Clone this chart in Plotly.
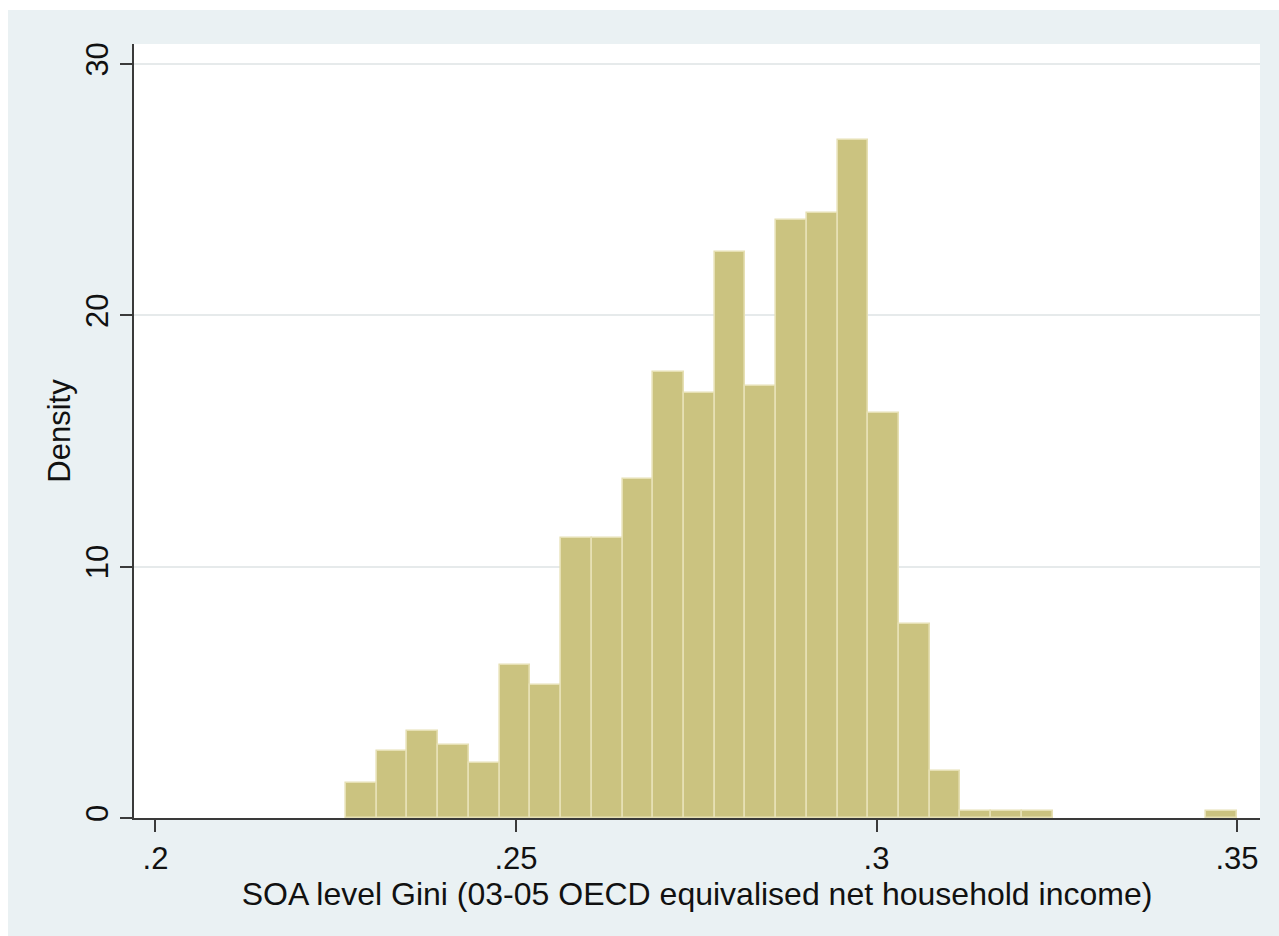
import plotly.graph_objects as go

# Histogram of SOA-level Gini coefficients (density scale), 29 equal-width bins
bin_start = 0.22642
bin_end = 0.35
densities = [1.38, 2.68, 3.46, 2.90, 2.18, 6.09, 5.29, 11.13, 11.13, 13.49,
             17.73, 16.92, 22.52, 17.20, 23.80, 24.07, 26.98, 16.13, 7.72, 1.87,
             0.28, 0.28, 0.28, 0, 0, 0, 0, 0, 0.28]
x_ticks = [0.2, 0.25, 0.3, 0.35]
x_tick_labels = [".2", ".25", ".3", ".35"]
y_ticks = [0, 10, 20, 30]
y_tick_labels = ["0", "10", "20", "30"]

n_bins = len(densities)
bin_width = (bin_end - bin_start) / n_bins
centers = [bin_start + bin_width * (i + 0.5) for i in range(n_bins)]
# empty bins get no outline so nothing is drawn along the baseline
outline_widths = [1.6 if d > 0 else 0 for d in densities]

FONT = "Liberation Sans, Arial, sans-serif"
AXIS = "#3a3a3a"
TEXT = "#111111"
BG = "#EAF1F3"

fig = go.Figure()
fig.add_trace(go.Bar(
    x=centers,
    y=densities,
    width=[bin_width] * n_bins,
    marker=dict(color="#CBC380", line=dict(color="#E6E0B4", width=outline_widths)),
    hoverinfo="x+y",
))

fig.update_layout(
    width=1279,
    height=936,
    margin=dict(l=134, r=19, t=44, b=118),
    paper_bgcolor=BG,
    plot_bgcolor="white",
    showlegend=False,
    bargap=0,
    font=dict(family=FONT, size=31, color=TEXT),
    # thin white frame strips along the top and left edges of the page
    shapes=[
        dict(type="rect", xref="paper", yref="paper", layer="below",
             x0=-0.2, x1=-0.1119, y0=-0.3, y1=1.2,
             fillcolor="white", line=dict(width=0)),
        dict(type="rect", xref="paper", yref="paper", layer="below",
             x0=-0.2, x1=1.2, y0=1.0439, y1=1.2,
             fillcolor="white", line=dict(width=0)),
    ],
)

fig.update_xaxes(
    range=[0.19702, 0.35319],
    tickvals=x_ticks,
    ticktext=x_tick_labels,
    showgrid=False,
    zeroline=False,
    showline=True,
    linecolor=AXIS,
    linewidth=2,
    ticks="outside",
    ticklen=12,
    tickwidth=2,
    tickcolor=AXIS,
    tickfont=dict(family=FONT, size=31, color=TEXT),
    title=dict(text="SOA level Gini (03-05 OECD equivalised net household income)",
               font=dict(family=FONT, size=32, color=TEXT), standoff=0),
    automargin=False,
)

fig.update_yaxes(
    range=[0, 30.796],
    tickvals=y_ticks,
    ticktext=y_tick_labels,
    tickangle=-90,
    showgrid=True,
    gridcolor="#E6EAEB",
    gridwidth=2,
    zeroline=False,
    showline=True,
    linecolor=AXIS,
    linewidth=2,
    ticks="outside",
    ticklen=12,
    tickwidth=2,
    tickcolor=AXIS,
    tickfont=dict(family=FONT, size=31, color=TEXT),
    title=dict(text="Density", font=dict(family=FONT, size=31, color=TEXT),
               standoff=0),
    automargin=False,
)

# page background in the same light tone as the figure surround
fig.write_html(
    "out.html",
    post_script=("document.body.style.background='%s';"
                 "document.documentElement.style.background='%s';") % (BG, BG),
)
